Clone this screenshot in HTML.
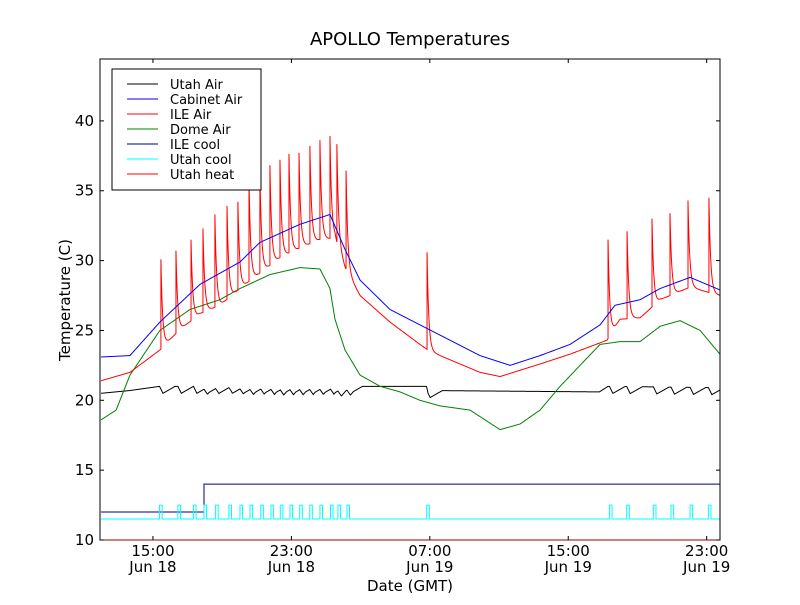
<!DOCTYPE html>
<html><head><meta charset="utf-8"><style>
body{margin:0;background:#fff;font-family:"Liberation Sans","DejaVu Sans",sans-serif}
svg text{font-family:"DejaVu Sans","Liberation Sans",sans-serif}
</style></head><body>
<svg id="c" width="800" height="600" xmlns="http://www.w3.org/2000/svg">
<rect width="800" height="600" fill="#fff"/>
<text x="410" y="45" font-size="18" text-anchor="middle">APOLLO Temperatures</text>
<text x="410" y="591" font-size="15" text-anchor="middle">Date (GMT)</text>
<text transform="translate(70,300) rotate(-90)" font-size="15" text-anchor="middle">Temperature (C)</text>
<g id="plot"></g>
<rect x="100" y="59" width="620" height="481" fill="none" stroke="#000" stroke-width="1"/>
<g id="plot2"></g>
<g id="ticks"></g>
<g id="legend"></g>
</svg>
<script>
// hours since 12:00 Jun 18
const xTickHours=[3,11,19,27,35];
const xTickTimes=["15:00","23:00","07:00","15:00","23:00"];
const xTickDates=["Jun 18","Jun 18","Jun 19","Jun 19","Jun 19"];
const yTicks=[10,15,20,25,30,35,40];
const cabinetT=[0,1.67,3.4,5.72,8.03,9.18,11.5,13.23,14.1,14.97,16.7,18.43,20.17,21.9,23.64,25.37,27.1,28.84,29.7,31.15,32.31,34.04,35.77];
const cabinetV=[23.1,23.2,25.6,28.3,29.9,31.3,32.6,33.3,30.8,28.6,26.5,25.4,24.3,23.2,22.5,23.2,24.0,25.4,26.8,27.2,28.0,28.8,27.9];
const ileT=[0,1.67,3.4,4.5,5.72,6.87,8.03,9.18,10.34,11.5,12.65,13.52,14.1,14.97,16.7,18.43,19.01,20.17,21.9,23.06,25.37,27.1,29.24,29.99,31.15,32.31,34.04,35.77];
const ileV=[21.4,22.0,23.6,25.0,26.2,26.8,28.0,29.1,30.2,30.9,31.5,31.6,29.5,27.5,25.6,24.0,23.5,22.9,22.0,21.7,22.6,23.3,24.3,25.8,25.9,27.2,28.1,27.5];
const spikeT=[3.46,4.33,5.2,5.89,6.58,7.28,7.91,8.55,9.18,9.76,10.34,10.86,11.44,12.07,12.65,13.23,13.63,14.16,18.84,29.3,30.4,31.84,32.88,33.92,35.13];
const spikeV=[30.1,30.7,31.5,32.3,33.3,33.9,34.2,35.8,36.4,36.8,37.2,37.6,37.7,38.2,38.6,38.9,38.2,36.4,30.6,31.5,32.1,33.0,33.4,34.3,34.5];
const domeT=[0,0.87,1.67,3.4,5.14,6.87,8.03,9.76,11.5,12.65,13.23,13.52,14.1,14.97,16.13,17.28,18.43,19.59,21.32,23.06,24.21,25.37,26.53,27.68,28.84,29.99,31.15,32.31,33.46,34.62,35.77];
const domeV=[18.6,19.3,21.8,25.0,26.5,27.2,28.0,29.0,29.5,29.4,28.0,25.8,23.6,21.8,21.0,20.6,20.0,19.6,19.3,17.9,18.3,19.3,21.0,22.5,24.0,24.2,24.2,25.3,25.7,25.0,23.3];
const utahT=[0,1.67,3.4,14.5,18.8,18.9,28.8,29.3,35.77];
const utahV=[20.5,20.7,21.0,21.0,21.0,20.7,20.6,21.0,20.9];
const coolT=[3.38,4.44,5.34,5.95,6.62,7.39,8.03,8.61,9.23,9.82,10.36,10.92,11.48,12.06,12.65,13.26,13.69,14.21,18.82,29.38,30.38,31.92,32.94,34.04,35.1];
const coolOff=11.5, coolOn=12.5, coolWidth=0.15;
const ileCoolT=[0,5.95,5.95,35.77];
const ileCoolV=[12,12,14,14];
const utahHeatT=[0,35.77];
const utahHeatV=[10,10];

const X0=-0.06,X1=35.77,Y0=10,Y1=44.43;
const px=t=>100+(t-X0)/(X1-X0)*620;
const py=v=>540-(v-Y0)/(Y1-Y0)*481;
const NS="http://www.w3.org/2000/svg";
function interp(T,V,t){if(t<=T[0])return V[0];for(let i=1;i<T.length;i++){if(t<=T[i]){const f=(t-T[i-1])/(T[i]-T[i-1]||1);return V[i-1]+f*(V[i]-V[i-1]);}}return V[V.length-1];}
const plot=document.getElementById('plot');
function line(pts,color,name,parent){
  const p=document.createElementNS(NS,'polyline');
  p.setAttribute('points',pts.map(a=>px(a[0]).toFixed(2)+','+py(a[1]).toFixed(2)).join(' '));
  p.setAttribute('fill','none');p.setAttribute('stroke',color);p.setAttribute('stroke-width','1');
  
  
  (parent||plot).appendChild(p);
}
const step=0.02;
let ua=[];
for(let t=0;t<=X1;t+=step){let v=interp(utahT,utahV,t);
  for(const c of coolT){if(t>=c){const d=t-c;if(d<0.2)v-=0.5*d/0.2;else if(d<0.9)v-=0.5*Math.max(0,1-(d-0.2)/0.7);}}
  ua.push([t,v]);}
line(ua,'#000','utah-air-line');
let dm=[];for(let t=0;t<=X1;t+=step)dm.push([t,interp(domeT,domeV,t)]);
line(dm,'#008000','dome-air-line');
let grid=[];for(let t=0;t<=X1;t+=step)grid.push(t);
spikeT.forEach(s=>{grid.push(s-0.0001);grid.push(s);});
grid.sort((a,b)=>a-b);
let ia=grid.map(t=>{let v=interp(ileT,ileV,t);
  spikeT.forEach((s,i)=>{if(t>=s){v+=(spikeV[i]-interp(ileT,ileV,s))*Math.exp(-(t-s)/0.1);}});return [t,v];});
line(ia,'#ff0000','ile-air-line');
let cb=[];for(let t=0;t<=X1;t+=step)cb.push([t,interp(cabinetT,cabinetV,t)]);
line(cb,'#0000ff','cabinet-air-line');
line(ileCoolT.map((t,i)=>[t,ileCoolV[i]]),'#000080','ile-cool-line');
let uc=[[0,coolOff]];coolT.forEach(c=>{uc.push([c,coolOff],[c,coolOn],[c+coolWidth,coolOn],[c+coolWidth,coolOff]);});uc.push([X1,coolOff]);
line(uc,'#00ffff','utah-cool-line');
line(utahHeatT.map((t,i)=>[t,utahHeatV[i]]),'rgba(255,0,0,0.6)','utah-heat-line',document.getElementById('plot2'));

const tk=document.getElementById('ticks');
function el(tag,attrs,txt){const e=document.createElementNS(NS,tag);for(const k in attrs)e.setAttribute(k,attrs[k]);if(txt)e.textContent=txt;tk.appendChild(e);return e;}
yTicks.forEach(v=>{const y=py(v);
  el('line',{x1:100,x2:104,y1:y,y2:y,stroke:'#000'});el('line',{x1:716,x2:720,y1:y,y2:y,stroke:'#000'});
  const t=el('text',{x:94,y:y+5,'font-size':15,'text-anchor':'end'},String(v));
  
  
});
xTickHours.forEach((h,i)=>{const x=px(h);
  el('line',{x1:x,x2:x,y1:536,y2:540,stroke:'#000'});el('line',{x1:x,x2:x,y1:59,y2:63,stroke:'#000'});
  const a=el('text',{x:x,y:556,'font-size':15,'text-anchor':'middle'},xTickTimes[i]);
  
  
  const b=el('text',{x:x,y:572,'font-size':15,'text-anchor':'middle'},xTickDates[i]);
  
  
});
const legNames=["Utah Air","Cabinet Air","ILE Air","Dome Air","ILE cool","Utah cool","Utah heat"];
const legColors=["#000","#0000ff","#ff0000","#008000","#000080","#00ffff","#ff0000"];
const lg=document.getElementById('legend');
const box=document.createElementNS(NS,'rect');
box.setAttribute('x',112);box.setAttribute('y',69);box.setAttribute('width',149);box.setAttribute('height',121);
box.setAttribute('fill','#fff');box.setAttribute('stroke','#000');


lg.appendChild(box);
legNames.forEach((n,i)=>{const y=84+i*15;
  const l=document.createElementNS(NS,'line');
  l.setAttribute('x1',127);l.setAttribute('x2',158);l.setAttribute('y1',y);l.setAttribute('y2',y);l.setAttribute('stroke',legColors[i]);
  
  
  lg.appendChild(l);
  const t=document.createElementNS(NS,'text');
  t.setAttribute('x',170);t.setAttribute('y',y+5);t.setAttribute('font-size',13);t.textContent=n;
  
  
  lg.appendChild(t);
});
</script>
</body></html>
